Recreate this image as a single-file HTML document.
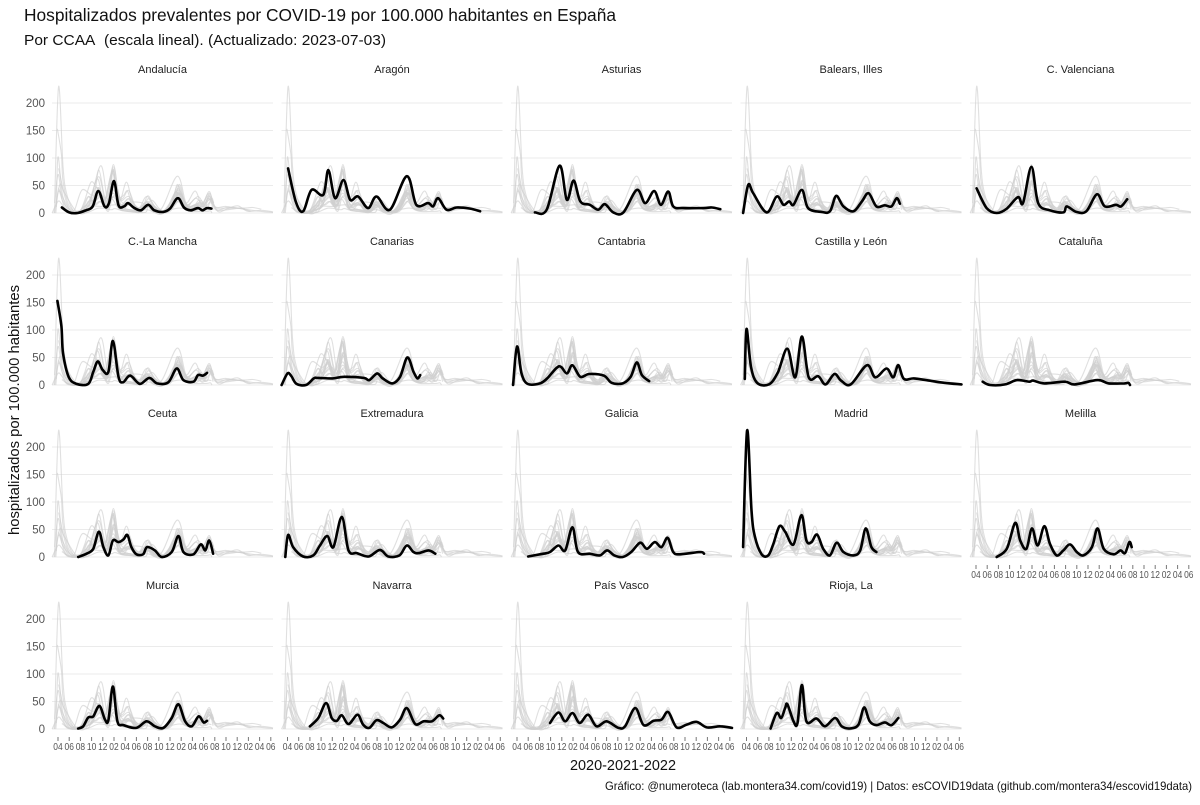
<!DOCTYPE html>
<html><head><meta charset="utf-8">
<style>
body{margin:0;background:#fff;}
svg{font-family:"Liberation Sans Narrow","Liberation Sans",sans-serif;}
</style></head>
<body>
<svg id="chart" width="1200" height="800" viewBox="0 0 1200 800" xmlns="http://www.w3.org/2000/svg">
<rect width="1200" height="800" fill="#fff"/>
<text x="24" y="21" font-size="17.5" fill="#111" textLength="592" lengthAdjust="spacingAndGlyphs">Hospitalizados prevalentes por COVID-19 por 100.000 habitantes en España</text>
<text x="24" y="45" font-size="14.5" fill="#111" textLength="362" lengthAdjust="spacingAndGlyphs">Por CCAA&#160; (escala lineal). (Actualizado: 2023-07-03)</text>
<text transform="translate(19,410) rotate(-90)" text-anchor="middle" font-size="14.5" fill="#111" textLength="250" lengthAdjust="spacingAndGlyphs">hospitalizados por 100.000 habitantes</text>
<text x="570" y="770" font-size="14.5" fill="#111" textLength="106" lengthAdjust="spacingAndGlyphs">2020-2021-2022</text>
<text x="605" y="790" font-size="12" fill="#111" textLength="587" lengthAdjust="spacingAndGlyphs">Gráfico: @numeroteca (lab.montera34.com/covid19) | Datos: esCOVID19data (github.com/montera34/escovid19data)</text>
<g id="panels"></g>
</svg>
<script>
const regions = ["Andalucía","Aragón","Asturias","Balears, Illes","C. Valenciana","C.-La Mancha","Canarias","Cantabria","Castilla y León","Cataluña","Ceuta","Extremadura","Galicia","Madrid","Melilla","Murcia","Navarra","País Vasco","Rioja, La"];
// month index: 0 = April 2020
const seriesT = [
 [0.7,2,3.5,5,6.2,7.2,8.3,9.1,10,10.8,11.8,12.5,13.5,14.8,16.1,17.2,18.8,20,21.4,22.5,23.7,25,25.8,26.6,27.4],
 [0.1,1.5,2.8,4.3,6.4,7.3,8.5,10,11.2,12.6,14.4,15.9,18.3,21.3,23,25.1,26,26.9,28.4,30.2,32.6,34.4],
 [3.2,5.3,7.6,8.9,10.1,11.3,13,14.5,15.7,17.2,19,21.4,22.9,24.5,25.7,27,27.9,29.7,33.3,34.8,36.3],
 [-0.6,0.3,1.2,3.6,5.4,6.6,7.6,8.4,9.9,11,13.4,14.9,16,17.3,19.1,20.6,21.8,23.2,24.7,25.9,26.8,27.4],
 [0.1,1.9,3.7,5.5,7.5,8.4,9.9,11.1,13.2,15.6,16.2,17.9,19.7,21.6,23,25,25.9,27],
 [-0.1,0.6,0.9,1.9,3.3,5.4,6.3,7.1,8,9,9.8,10.8,11.6,12.9,14.6,16.3,17.7,19.7,21.2,22.4,24.2,25,25.9,26.6],
 [-1.05,0,0.7,1.6,3.3,4.7,5.4,8.1,10.1,13.6,14.6,16,17,18.7,20.1,21.4,22.5,23.2,23.7],
 [-0.7,0,0.8,1.9,4.1,5.4,7.5,8.9,9.9,11.3,12.9,15.5,16.9,18.9,20.3,21.4,22.3,23.6],
 [-0.3,0,0.8,1.9,4,5.6,7.3,8.7,9.9,11.1,12.8,14.1,15.7,16.9,18.6,21.5,23,25,26.2,27.1,28.1,29.9,32.6,35.3,38.4],
 [1.2,2.5,5.2,7.3,9.5,10.2,12.2,15.9,17.6,21.7,23.7,26.5,27.2,27.5],
 [3.6,5.1,6.3,7.3,8.1,9,9.8,10.8,11.7,12.4,13.1,14,15.2,15.9,17.3,18.5,20.3,21.5,22.4,24.2,25.5,26.3,27,27.7],
 [-0.4,0.1,1,2.8,4.6,5.8,7.1,8.2,9.7,10.9,12.4,14.5,16.5,18,20,21.3,22.5,23.4,25.2,26.4],
 [2,4.7,5.9,7.4,8.6,9.9,10.9,13,14.8,16.1,17.4,18.9,20.4,22,23.2,24.6,25.8,26.9,27.9,29.1,32.7,33.4],
 [-0.6,0.1,0.9,1.5,2.7,3.9,4.8,5.9,6.9,8.4,9.8,10.7,11.6,12.6,13.7,14.9,16.1,17.3,19.1,20.3,21.3,22.3,23.2],
 [3.7,5.5,7,7.9,9,10,11,12.2,13.2,14.4,15.6,16.8,18,19.2,20.7,21.7,22.8,24.6,25.8,26.6,27.4,27.8],
 [3.6,4.5,5.4,6.3,7.4,8.4,9,9.8,10.6,11.7,14,15.8,17.3,18.8,20.3,21.5,22.7,23.9,25.1,26,26.6],
 [4,5.5,6.9,7.9,8.8,9.7,10.9,12.5,13.5,14.6,15.9,17.1,18.6,20.1,21.3,22.8,24.3,25.8,27.1,27.8],
 [5.9,7.4,8.6,9.9,11.2,12.7,14.2,16,18.1,19.3,21.1,22.6,24.4,25.8,27,28.5,30.3,32.1,33.9,36.3,38.4],
 [4.3,5.4,6.2,6.9,7.3,8.4,9.1,9.9,10.7,12.5,14,15.8,17,18.5,20,21,22,23.2,24.7,25.9,27.1]
];
const seriesV = [
 [10,1,0,5,12,40,12,18,58,14,12,18,10,5,15,5,2,8,27,10,5,9,5,9,8],
 [81,20,3,42,33,78,27,60,24,30,9,30,6,67,15,18,12,27,6,10,8,3],
 [1,6,86,24,59,21,15,6,16,1,1,42,18,40,15,39,12,9,9,10,7],
 [0,51,36,1,30,15,21,15,42,9,2,3,31,12,3,21,36,12,14,12,27,17],
 [45,9,0,8,29,18,84,18,5,1,12,2,3,34,12,15,12,25],
 [153,107,58,15,2,2,24,43,27,24,80,15,5,17,2,13,3,5,30,9,6,18,17,22],
 [0,21,16,2,0,12,13,12,15,13,9,21,12,3,15,50,24,12,18],
 [0,70,21,2,3,12,34,21,36,15,20,17,4,3,15,41,18,7],
 [11,102,33,4,1,23,66,14,88,14,16,1,20,8,1,36,14,30,14,36,11,12,8,4,1],
 [6,0,1,9,6,8,3,6,1,9,3,3,4,0],
 [0,6,15,46,18,3,30,27,32,40,18,5,5,18,12,0,9,38,9,5,23,12,30,6],
 [0,40,18,1,3,21,38,18,73,12,7,1,13,1,3,21,9,7,12,6],
 [1,6,9,21,12,54,9,6,3,12,3,0,9,26,15,27,18,35,9,5,9,6],
 [18,230,85,37,5,3,24,56,46,23,76,30,27,41,15,3,26,9,3,12,52,18,9],
 [0,15,62,30,15,52,21,56,24,3,12,23,9,3,18,52,15,5,12,7,27,18],
 [1,5,21,23,42,17,16,77,14,7,2,14,5,2,20,45,14,5,23,12,15],
 [5,20,47,20,15,25,9,26,8,2,16,11,3,17,38,9,14,14,25,19],
 [11,30,14,29,11,26,5,14,2,5,38,7,15,17,31,3,8,13,3,5,2],
 [1,29,20,38,45,14,11,80,14,19,5,20,5,1,8,39,14,7,12,7,20]
];
const yTicks = [0,50,100,150,200];
const xTickMonths = [0,2,4,6,8,10,12,14,16,18,20,22,24,26,28,30,32,34,36,38];
const xTickLabels = ["04","06","08","10","12","02","04","06","08","10","12","02","04","06","08","10","12","02","04","06"];

const NS = "http://www.w3.org/2000/svg";
const root = document.getElementById('panels');
const PW = 221, PITCH_X = 229.5, PITCH_Y = 172;
function mk(tag, attrs, parent){const e=document.createElementNS(NS,tag);for(const k in attrs)e.setAttribute(k,attrs[k]);(parent||root).appendChild(e);return e;}
function xs(c){const x0=52+PITCH_X*c;return m=>x0+6+5.6*m;}
function ys(r){const y0=213+PITCH_Y*r;return v=>y0-0.55*v;}
function pathFor(T,V,X,Y){
  const p=T.map((t,i)=>[X(t),Y(V[i])]);
  let d="M"+p[0][0].toFixed(1)+","+p[0][1].toFixed(1);
  for(let i=0;i<p.length-1;i++){
    const p0=p[i-1]||p[i],p1=p[i],p2=p[i+1],p3=p[i+2]||p2;
    const c1x=p1[0]+(p2[0]-p0[0])/6,c1y=p1[1]+(p2[1]-p0[1])/6;
    const c2x=p2[0]-(p3[0]-p1[0])/6,c2y=p2[1]-(p3[1]-p1[1])/6;
    d+=` C${c1x.toFixed(1)},${c1y.toFixed(1)} ${c2x.toFixed(1)},${c2y.toFixed(1)} ${p2[0].toFixed(1)},${p2[1].toFixed(1)}`;
  }
  return d;
}
regions.forEach((name,idx)=>{
  const c=idx%5, r=Math.floor(idx/5);
  const X=xs(c), Y=ys(r), x0=52+PITCH_X*c;
  const g=mk('g',{});
  
  
  const st=mk('text',{x:x0+PW/2,y:73+PITCH_Y*r,'text-anchor':'middle','font-size':'11',fill:'#222'},g);
  st.textContent=name;
  
  
  yTicks.forEach(v=>{
    const gl=mk('line',{x1:x0,x2:x0+PW,y1:Y(v),y2:Y(v),stroke:'#ebebeb','stroke-width':'1.1'},g);
    
    
    if(c===0){
      const t=mk('text',{x:45,y:Y(v)+4,'text-anchor':'end','font-size':'11.5',fill:'#555'},g);
      t.textContent=v;
      
      
    }
  });
  seriesT.forEach((T,j)=>{
    const p=mk('path',{d:pathFor(T,seriesV[j],X,Y),fill:'none',stroke:'#cfcfcf','stroke-opacity':'0.65','stroke-width':'1.1'},g);
    
    
  });
  const bl=mk('path',{d:pathFor(seriesT[idx],seriesV[idx],X,Y),fill:'none',stroke:'#000','stroke-width':'2.6','stroke-linejoin':'round','stroke-linecap':'round'},g);
  
  
  const below = idx+5 >= regions.length;
  if(below){
    const base=213+PITCH_Y*r;
    xTickMonths.forEach((m,k)=>{
      const tk=mk('line',{x1:X(m),x2:X(m),y1:base+8,y2:base+12,stroke:'#777','stroke-width':'1'},g);
      
      
      const tl=mk('text',{x:X(m)-4.7,y:base+21,'font-size':'10',fill:'#555',textLength:'9.4',lengthAdjust:'spacingAndGlyphs'},g);
      tl.textContent=xTickLabels[k];
      
      
    });
  }
});
</script>
</body></html>
